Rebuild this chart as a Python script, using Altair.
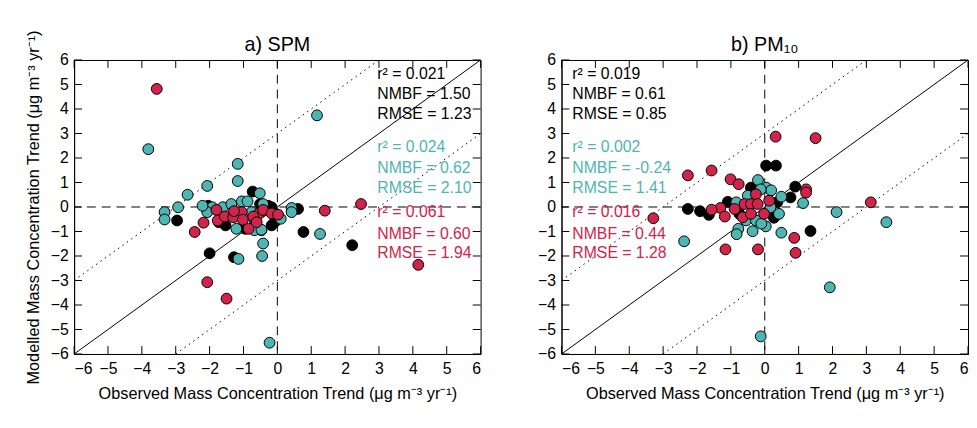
import altair as alt
import pandas as pd

# Panel a) SPM
a_red_x = [-3.56, 2.47, 1.40, 4.16, -2.07, -1.50, -2.44, -2.18, -1.80, -1.76, -1.55, -1.30, -1.05, -1.02, -0.85,
           -0.68, -0.54, -0.42, -0.17, 0.02, -0.71, -1.28, -0.61]
a_red_y = [4.82, 0.12, -0.15, -2.36, -3.07, -3.74, -1.02, -0.64, -0.12, -0.55, -0.39, -0.42, -0.21, -0.52, -0.89,
           -0.52, -0.26, -0.12, -0.26, -0.31, -0.39, -0.17, -0.62]
a_blk_x = [-0.73, -2.96, -2.00, -1.28, 0.61, 0.77, 2.21, -0.17, -0.27, -0.17, -2.04, -1.73, -1.53, -0.95, -0.47,
           -0.08, -0.51]
a_blk_y = [0.63, -0.55, -1.89, -2.05, -0.08, -1.02, -1.56, -0.75, 0.05, -0.01, 0.05, -0.62, -0.75, -0.89, -0.95,
           -0.62, 0.12]
a_teal_x = [-3.81, 1.17, -1.17, -1.17, -2.07, -2.65, -2.93, -3.33, -3.33, -0.52, -0.42, -0.45, -1.15, -0.23, 1.26,
            0.42, 0.42, 0.10, -1.92, -1.61, -1.36, -1.05, -0.88, -2.07, -1.21, -0.68, -0.47, -0.42, -0.76, -2.21]
a_teal_y = [2.36, 3.74, 1.76, 1.06, 0.86, 0.50, -0.01, -0.21, -0.51, 0.56, -1.49, -2.00, -2.12, -5.54, -1.10,
            -0.04, -0.21, -0.48, -0.01, -0.01, 0.12, 0.23, 0.23, -0.21, -0.89, -0.95, -0.93, 0.12, -0.21, 0.05]

# Panel b) PM10
b_red_x = [0.32, 1.50, -1.57, -2.27, -3.29, 3.13, 1.22, 1.22, 0.87, 0.91, -1.16, -0.20, -1.01, -0.77, -1.31,
           -1.57, -1.18, -0.89, -0.60, -0.41, -0.26, -0.21, -0.02, 0.13, -0.65, -0.41]
b_red_y = [2.87, 2.81, 1.49, 1.29, -0.46, 0.19, 0.72, 0.59, -1.26, -1.87, -1.73, -1.73, 1.13, 0.93, -0.04,
           -0.11, -0.39, -0.08, 0.12, 0.12, 0.52, 0.12, -0.28, 0.26, -0.42, -0.28]
b_blk_x = [0.04, 0.33, 0.90, -2.27, -1.91, -1.65, 1.35, -1.09, -0.41, 0.37, 0.76, 0.27, -0.75]
b_blk_y = [1.69, 1.69, 0.83, -0.08, -0.17, -0.32, -0.98, 0.21, 0.79, 0.19, 0.39, -0.44, -0.28]
b_teal_x = [-0.20, 0.05, 0.19, 0.49, 1.13, 2.12, 3.59, 1.92, -0.12, -2.38, -0.78, -0.83, -0.36, 0.49, 0.03,
            0.42, -0.84, -0.50, -0.12, -0.55, -0.26, -0.10, 0.17]
b_teal_y = [1.10, 0.79, 0.68, 0.42, 0.16, -0.21, -0.62, -3.28, -5.28, -1.40, -0.89, -1.11, -0.99, -1.05, -0.79,
            -0.28, 0.19, 0.46, 0.72, -0.55, -0.55, -0.68, -0.01]

a_stats = ["r² = 0.021", "NMBF = 1.50", "RMSE = 1.23", "r² = 0.024", "NMBF = 0.62", "RMSE = 2.10",
           "r² = 0.061", "NMBF = 0.60", "RMSE = 1.94"]
b_stats = ["r² = 0.019", "NMBF = 0.61", "RMSE = 0.85", "r² = 0.002", "NMBF = -0.24", "RMSE = 1.41",
           "r² = 0.016", "NMBF = 0.44", "RMSE = 1.28"]
stat_y = [5.42, 4.62, 3.81, 2.43, 1.60, 0.79, -0.21, -1.09, -1.89]
stat_grp = ["k", "k", "k", "t", "t", "t", "r", "r", "r"]

ticks = list(range(-6, 7))
grp_colors = alt.Scale(domain=["k", "t", "r"], range=["#000000", "#4db6b3", "#d2234a"])
XT = "Observed Mass Concentration Trend (μg m⁻³ yr⁻¹)"
YT = "Modelled Mass Concentration Trend (μg m⁻³ yr⁻¹)"
sc = alt.Scale(domain=[-6, 6], nice=False, zero=False)
FONT = "Liberation Sans"


def panel(title, rx, ry, kx, ky, tx, ty, stats, stat_x, ytitle):
    pts = pd.concat([
        pd.DataFrame({"x": kx, "y": ky, "g": "k", "o": 0}),
        pd.DataFrame({"x": tx, "y": ty, "g": "t", "o": 1}),
        pd.DataFrame({"x": rx, "y": ry, "g": "r", "o": 2}),
    ])
    x_ax = alt.Axis(values=ticks, title=XT, ticks=False, grid=False, labelPadding=7, format="d",
                    labelOverlap=False)
    y_ax = alt.Axis(values=ticks, title=ytitle if ytitle else "", ticks=False, grid=False, labelPadding=6,
                    format="d", labelOverlap=False)
    X = alt.X("x:Q", scale=sc, axis=x_ax)
    Y = alt.Y("y:Q", scale=sc, axis=y_ax)

    lines = pd.DataFrame({"x": [-6, 6, -6, 3, -3, 6], "y": [-6, 6, -3, 6, -6, 3],
                          "l": ["a", "a", "b", "b", "c", "c"]})
    one = alt.Chart(lines[lines.l == "a"]).mark_line(color="black", strokeWidth=1, clip=True).encode(
        x=X, y=Y)
    dotted = alt.Chart(lines[lines.l != "a"]).mark_line(
        color="black", strokeWidth=1, strokeDash=[1.5, 4], clip=True).encode(x=X, y=Y, detail="l:N")
    zero = pd.DataFrame({"x": [0], "y": [0]})
    vz = alt.Chart(zero).mark_rule(color="black", strokeDash=[9, 6]).encode(x=X)
    hz = alt.Chart(zero).mark_rule(color="black", strokeDash=[9, 6]).encode(y=Y)

    dots = alt.Chart(pts).mark_circle(size=120, opacity=1, stroke="black", strokeWidth=1).encode(
        x=X, y=Y, color=alt.Color("g:N", scale=grp_colors, legend=None), order="o:Q")

    # inward ticks on all four sides
    tk = pd.DataFrame({"x": ticks, "y": ticks})
    tb = alt.Chart(tk).mark_rule(color="black").encode(x=X, y=alt.value(298), y2=alt.value(290))
    tt = alt.Chart(tk).mark_rule(color="black").encode(x=X, y=alt.value(0), y2=alt.value(8))
    tl = alt.Chart(tk).mark_rule(color="black").encode(y=Y, x=alt.value(0), x2=alt.value(8))
    tr = alt.Chart(tk).mark_rule(color="black").encode(y=Y, x=alt.value(412), x2=alt.value(404))

    st = pd.DataFrame({"t": stats, "y": stat_y, "g": stat_grp, "x": stat_x})
    txt = alt.Chart(st).mark_text(align="left", baseline="middle", fontSize=16, font=FONT).encode(
        x=X, y=Y, text="t:N", color=alt.Color("g:N", scale=grp_colors, legend=None))

    ttl = alt.Chart(pd.DataFrame({"t": [title]})).mark_text(
        fontSize=20, font=FONT, baseline="alphabetic", align="center", color="black").encode(
        x=alt.value(206), y=alt.value(-9), text="t:N")

    return alt.layer(one, dotted, vz, hz, dots, txt, tb, tt, tl, tr, ttl).properties(width=412, height=298)


pa = panel("a) SPM", a_red_x, a_red_y, a_blk_x, a_blk_y, a_teal_x, a_teal_y, a_stats, 2.95, YT)
pb = panel("b) PM₁₀", b_red_x, b_red_y, b_blk_x, b_blk_y, b_teal_x, b_teal_y, b_stats, -5.68, None)

chart = alt.hconcat(pa, pb, spacing=56).properties(
    padding={"left": 17, "top": 18, "right": 0, "bottom": 0}
).configure_view(stroke="black", strokeWidth=1).configure_axis(
    labelFontSize=16, titleFontSize=16.5, labelColor="black", titleColor="black",
    domainColor="black", labelFont=FONT, titleFont=FONT,
    titleFontWeight="normal", titlePadding=9
)

chart.save("out.html", embed_options={"renderer": "svg", "actions": False})
